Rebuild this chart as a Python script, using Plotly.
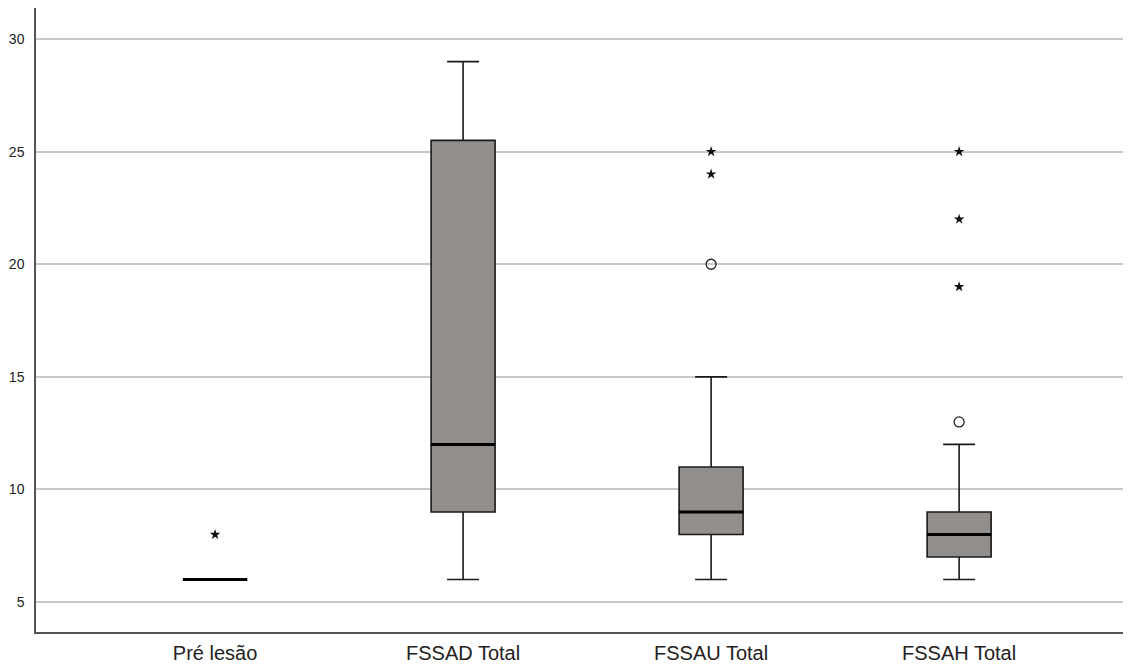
import plotly.graph_objects as go

categories = ["Pré lesão", "FSSAD Total", "FSSAU Total", "FSSAH Total"]
lower = [6, 6, 6, 6]
q1 = [6, 9, 8, 7]
median = [6, 12, 9, 8]
q3 = [6, 25.5, 11, 9]
upper = [6, 29, 15, 12]

# outliers (circles) and extremes (stars): (category index, value)
outlier_cat = [2, 3]
outlier_val = [20, 13]
extreme_cat = [0, 2, 2, 3, 3, 3]
extreme_val = [8, 24, 25, 19, 22, 25]

xpos = list(range(len(categories)))

fig = go.Figure()
fig.add_trace(go.Box(
    x=xpos, q1=q1, median=median, q3=q3, lowerfence=lower, upperfence=upper,
    width=0.258, whiskerwidth=0.5,
    fillcolor="#928e8b", line=dict(color="#1a1a1a", width=1.6),
    boxpoints=False, showlegend=False, hoverinfo="skip",
))
# thick median lines
fig.add_trace(go.Scatter(
    x=xpos, y=median, mode="markers",
    marker=dict(symbol="line-ew", size=46, line=dict(color="black", width=3)),
    showlegend=False, hoverinfo="skip",
))
fig.add_trace(go.Scatter(
    x=outlier_cat, y=outlier_val, mode="markers",
    marker=dict(symbol="circle-open", size=10, color="#222", line=dict(width=1.3)),
    showlegend=False,
))
fig.add_trace(go.Scatter(
    x=extreme_cat, y=extreme_val, mode="markers",
    marker=dict(symbol="star", size=8, color="#111"),
    showlegend=False,
))

fig.update_layout(
    width=1123, height=658,
    margin=dict(l=28, r=0, t=0, b=34),
    paper_bgcolor="white", plot_bgcolor="white",
    font=dict(family="Liberation Sans, Arial, sans-serif", color="#222"),
    xaxis=dict(
        range=[-0.722, 3.693], tickvals=xpos, ticktext=categories,
        showgrid=False, zeroline=False, showline=True, linecolor="#555", linewidth=1.5,
        ticks="", ticklabelstandoff=2, automargin=False,
        tickfont=dict(size=20, color="#222"),
    ),
    yaxis=dict(
        range=[3.67, 31.38], tickvals=[5, 10, 15, 20, 25, 30],
        showgrid=True, gridcolor="#c8c8c8", gridwidth=1.5, zeroline=False,
        showline=True, linecolor="#555", linewidth=1.5,
        ticks="", ticklabelstandoff=7, automargin=False,
        tickfont=dict(size=14, color="#222"),
    ),
)

fig.write_html("out.html")
